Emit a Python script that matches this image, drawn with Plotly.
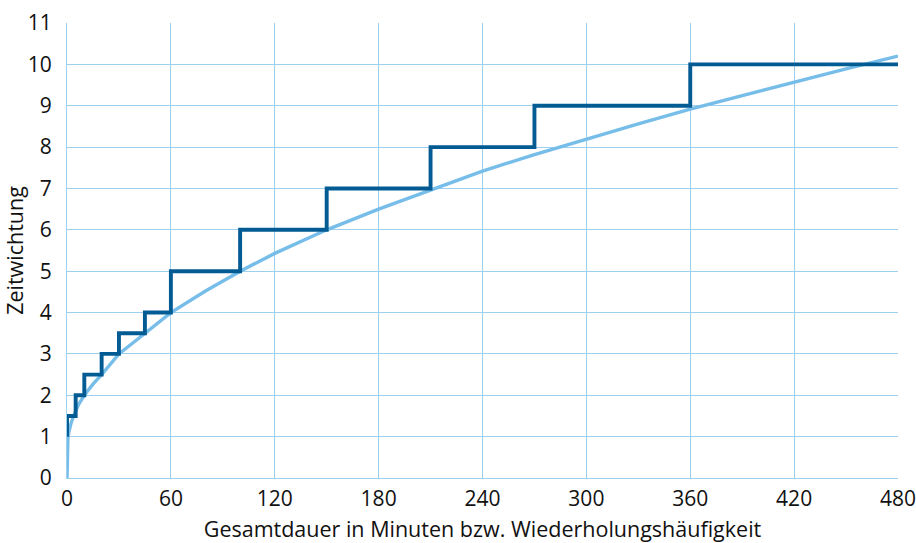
import plotly.graph_objects as go

# Step function (Zeitwichtung)
step_x = [0, 0, 5, 10, 20, 30, 45, 60, 100, 150, 210, 270, 360, 480]
step_y = [1, 1.5, 2, 2.5, 3, 3.5, 4, 5, 6, 7, 8, 9, 10, 10]

# Smooth curve
curve_x = [0, 0.05, 0.2, 0.5, 1, 2.5, 5, 7, 10, 15, 20, 30, 40, 45, 60, 80, 100, 120,
           150, 180, 210, 240, 270, 300, 330, 360, 390, 420, 450, 480]
curve_y = [0, 0.5, 0.75, 0.95, 1.1, 1.35, 1.62, 1.8, 2.0, 2.27, 2.5, 3.0, 3.33, 3.5, 4.0,
           4.52, 5.0, 5.43, 6.0, 6.5, 6.97, 7.42, 7.82, 8.2, 8.56, 8.92, 9.25, 9.57, 9.89, 10.2]

x_ticks = [0, 60, 120, 180, 240, 300, 360, 420, 480]
y_ticks = list(range(0, 12))

grid_col = "#9DD0EF"
font_family = "Open Sans, DejaVu Sans, sans-serif"

fig = go.Figure()
fig.add_trace(go.Scatter(x=curve_x, y=curve_y, mode="lines",
                         line=dict(color="#76BDE9", width=3.4), hoverinfo="skip",
                         showlegend=False, cliponaxis=False))
fig.add_trace(go.Scatter(x=step_x, y=step_y, mode="lines",
                         line=dict(color="#035B94", width=3.9, shape="hv"),
                         showlegend=False, cliponaxis=False))

fig.update_layout(
    width=916, height=543,
    margin=dict(l=67, r=18, t=23, b=65, autoexpand=False),
    paper_bgcolor="white", plot_bgcolor="white",
    font=dict(family=font_family, size=21, color="#111111"),
    xaxis=dict(range=[0, 480], tickvals=x_ticks, ticktext=[str(v) for v in x_ticks],
               automargin=False, ticklabeloverflow="allow",
               showgrid=True, gridcolor=grid_col, gridwidth=1.3,
               showline=True, linecolor=grid_col, linewidth=1.3,
               zeroline=False, ticks="", ticklabelstandoff=2,
               title=dict(text="Gesamtdauer in Minuten bzw. Wiederholungshäufigkeit",
                          font=dict(size=21.5), standoff=10)),
    yaxis=dict(range=[0, 11], tickvals=y_ticks, ticktext=[str(v) for v in y_ticks],
               automargin=False, ticklabeloverflow="allow",
               showgrid=True, gridcolor=grid_col, gridwidth=1.3,
               showline=True, linecolor=grid_col, linewidth=1.3,
               zeroline=False, ticks="", ticklabelstandoff=10,
               title=dict(text="Zeitwichtung", font=dict(size=21.5), standoff=10)),
)

fig.write_html("out.html", config={"displayModeBar": False},
               post_script="document.body.style.margin='0px';document.body.style.overflow='hidden';")
